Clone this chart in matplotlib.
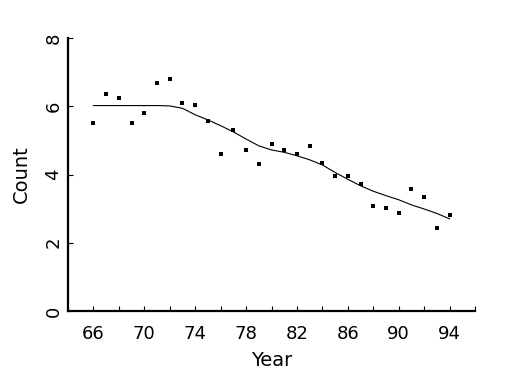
import numpy as np
import matplotlib

matplotlib.use('Agg')
import matplotlib.pyplot as plt

years = list(range(66, 95))
counts = [5.52, 6.35, 6.24, 5.50, 5.80, 6.68, 6.79, 6.09, 6.04, 5.57,
          4.60, 5.31, 4.72, 4.30, 4.89, 4.71, 4.60, 4.83, 4.33, 3.95,
          3.95, 3.72, 3.07, 3.01, 2.87, 3.57, 3.35, 2.43, 2.81]
# сглаженная кривая
smooth = [6.02, 6.02, 6.02, 6.02, 6.02, 6.02, 6.01, 5.94, 5.75, 5.60,
          5.43, 5.25, 5.04, 4.84, 4.72, 4.65, 4.55, 4.43, 4.28, 4.06,
          3.86, 3.67, 3.51, 3.38, 3.26, 3.11, 2.99, 2.86, 2.70]

xticks = [66, 70, 74, 78, 82, 86, 90, 94]
yticks = [0, 2, 4, 6, 8]

fig = plt.figure(figsize=(5.25, 3.75), dpi=100)
ax = fig.add_axes([68 / 525, 64 / 375, 407 / 525, 273 / 375])

ax.plot(years, counts, 's', color='black', markersize=2.2, markeredgewidth=0)
ax.plot(years, smooth, '-', color='black', linewidth=0.8)

ax.set_xlim(64, 96)
ax.set_ylim(0, 8)
ax.set_xticks(xticks)
ax.set_xticks(np.arange(64, 97, 2), minor=True)
ax.set_yticks(yticks)

ax.spines['top'].set_visible(False)
ax.spines['right'].set_visible(False)
ax.spines['left'].set_linewidth(1.6)
ax.spines['bottom'].set_linewidth(1.6)

ax.tick_params(axis='both', which='both', direction='in', length=3.5, width=0.8)
ax.tick_params(axis='x', which='major', labelsize=13, pad=10)
ax.tick_params(axis='y', which='major', labelsize=13, pad=4)
for lbl in ax.get_yticklabels():
    lbl.set_rotation(90)
    lbl.set_va('center')

ax.set_xlabel('Year', fontsize=14, labelpad=6)
ax.set_ylabel('Count', fontsize=14, labelpad=10)

fig.savefig('out.png', dpi=100)
